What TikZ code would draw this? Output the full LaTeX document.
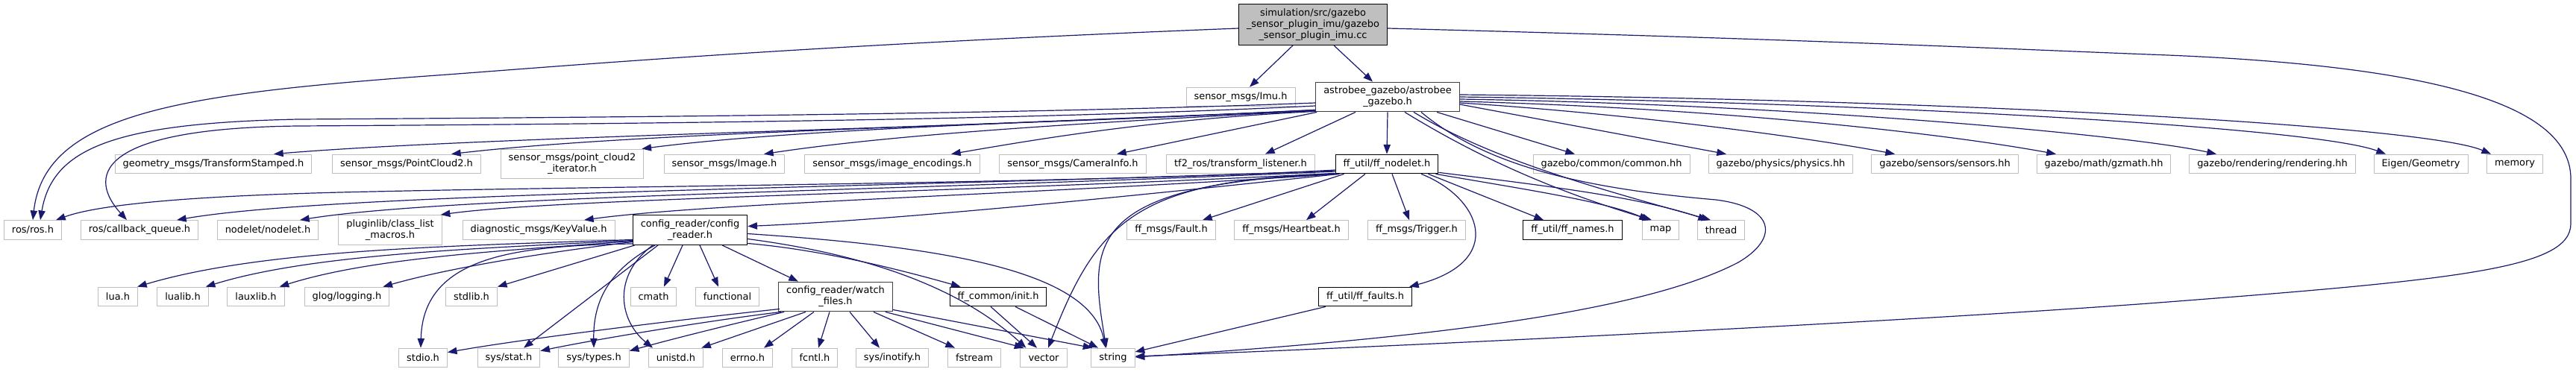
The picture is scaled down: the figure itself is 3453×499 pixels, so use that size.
\documentclass[tikz,border=0pt]{standalone}
\usepackage{fontspec}
\setmainfont{DejaVu Sans}
\usetikzlibrary{arrows.meta,calc}
\definecolor{midblue}{HTML}{191970}
\definecolor{grey75}{HTML}{BFBFBF}
\definecolor{docgrey}{HTML}{404040}
\begin{document}
\begin{tikzpicture}[x=0.75pt,y=-0.75pt,
  box/.style={rectangle, inner xsep=7.9pt, inner ysep=4.5pt, minimum height=19.3pt, align=center, font=\fontsize{9.7}{11.25}\selectfont, line width=0.75pt},
  ext/.style={box, draw=grey75},
  doc/.style={box, draw=black},
  docg/.style={box, draw=docgrey},
  mainnode/.style={box, draw=black, fill=grey75},
  dep/.style={draw=midblue, line width=0.9pt, -{Triangle[length=9.5pt,width=7pt]}}]
\fill[white] (0,0) rectangle (3453,499);
\useasboundingbox (0,0) rectangle (3453,499);
% rank 0
\node[mainnode] (M) at (1760,33) {simulation/src/gazebo\\\_sensor\_plugin\_imu/gazebo\\\_sensor\_plugin\_imu.cc};
% rank 1
\node[ext] (imu) at (1663,130) {sensor\_msgs/Imu.h};
\node[docg] (A) at (1860,130) {astrobee\_gazebo/astrobee\\\_gazebo.h};
% rank 2
\node[ext] (geom) at (286,220) {geometry\_msgs/TransformStamped.h};
\node[ext] (pc2) at (545,220) {sensor\_msgs/PointCloud2.h};
\node[ext] (pc2it) at (767,220) {sensor\_msgs/point\_cloud2\\\_iterator.h};
\node[ext] (img) at (971,220) {sensor\_msgs/Image.h};
\node[ext] (imgenc) at (1196,220) {sensor\_msgs/image\_encodings.h};
\node[ext] (cam) at (1438,220) {sensor\_msgs/CameraInfo.h};
\node[ext] (tf) at (1663,220) {tf2\_ros/transform\_listener.h};
\node[doc] (fn) at (1859,220) {ff\_util/ff\_nodelet.h};
\node[ext] (common) at (2160,220) {gazebo/common/common.hh};
\node[ext] (physics) at (2387,220) {gazebo/physics/physics.hh};
\node[ext] (sensors) at (2607,220) {gazebo/sensors/sensors.hh};
\node[ext] (gzmath) at (2820,220) {gazebo/math/gzmath.hh};
\node[ext] (rendering) at (3046,220) {gazebo/rendering/rendering.hh};
\node[ext] (eigen) at (3245,220) {Eigen/Geometry};
\node[ext] (memory) at (3371,220) {memory};
% rank 3
\node[ext] (ros) at (44,308.5) {ros/ros.h};
\node[ext] (cbq) at (187,308.5) {ros/callback\_queue.h};
\node[ext] (nodelet) at (359,308.5) {nodelet/nodelet.h};
\node[ext] (plugin) at (523,308.5) {pluginlib/class\_list\\\_macros.h};
\node[ext] (kv) at (722,308.5) {diagnostic\_msgs/KeyValue.h};
\node[doc] (cr) at (925,308.5) {config\_reader/config\\\_reader.h};
\node[ext] (fault) at (1570,308.5) {ff\_msgs/Fault.h};
\node[ext] (hb) at (1731,308.5) {ff\_msgs/Heartbeat.h};
\node[ext] (trigger) at (1899,308.5) {ff\_msgs/Trigger.h};
\node[doc] (names) at (2108,308.5) {ff\_util/ff\_names.h};
\node[ext] (map) at (2226,308.5) {map};
\node[ext] (thread) at (2307,308.5) {thread};
% rank 4
\node[ext] (lua) at (158,398) {lua.h};
\node[ext] (lualib) at (245,398) {lualib.h};
\node[ext] (lauxlib) at (343,398) {lauxlib.h};
\node[ext] (glog) at (465,398) {glog/logging.h};
\node[ext] (stdlib) at (632,398) {stdlib.h};
\node[ext] (cmath) at (876,398) {cmath};
\node[ext] (functional) at (975,398) {functional};
\node[docg] (wf) at (1120,398) {config\_reader/watch\\\_files.h};
\node[doc] (init) at (1338,398) {ff\_common/init.h};
\node[doc] (faults) at (1830,398) {ff\_util/ff\_faults.h};
% rank 5
\node[ext] (stdio) at (567,480) {stdio.h};
\node[ext] (stat) at (682,480) {sys/stat.h};
\node[ext] (types) at (796,480) {sys/types.h};
\node[ext] (unistd) at (906,480) {unistd.h};
\node[ext] (errno) at (1002,480) {errno.h};
\node[ext] (fcntl) at (1092,480) {fcntl.h};
\node[ext] (inotify) at (1196,480) {sys/inotify.h};
\node[ext] (fstream) at (1306,480) {fstream};
\node[ext] (vector) at (1399,480) {vector};
\node[ext] (string) at (1492,480) {string};
% edges from main
\draw[dep] ($(M.south)+(-27,0)$) -- ($(imu.north)+(12,0)$);
\draw[dep] ($(M.south)+(28,0)$) -- ($(A.north)+(-20,0)$);
\draw[dep] ($(M.west)+(0,5)$) .. controls (1100,60) and (800,85) .. (600,100) .. controls (250,125) and (60,150) .. (ros.north);
\draw[dep] ($(M.east)+(0,5)$) .. controls (2400,52) and (2700,66) .. (2880,73) .. controls (3300,88) and (3446,150) .. (3446,240) -- (3446,300) .. controls (3446,360) and (3300,375) .. (2880,407) .. controls (2500,435) and (1800,468) .. ($(string.east)+(0,-2)$);
% edges from astrobee_gazebo
\draw[dep] ($(A.west)+(0,8)$) .. controls (1400,152) and (900,157) .. (400,160) .. controls (150,165) and (70,200) .. ($(ros.north)+(10,0)$);
\draw[dep] ($(A.west)+(0,12)$) .. controls (1400,160) and (900,166) .. (400,169) .. controls (120,172) and (120,240) .. ($(cbq.north)+(-17,0)$);
\draw[dep] ($(A.south west)+(0,-3)$) .. controls (1300,172) and (650,183) .. ($(geom.north)+(81,0)$);
\draw[dep] ($(A.south west)+(0,-3)$) .. controls (1300,170) and (850,178) .. ($(pc2.north)+(60,0)$);
\draw[dep] ($(A.south west)+(0,-2)$) .. controls (1350,165) and (1050,175) .. ($(pc2it.north east)+(-3,0)$);
\draw[dep] ($(A.south west)+(0,-2)$) .. controls (1450,165) and (1200,180) .. ($(img.north)+(53,0)$);
\draw[dep] ($(A.south west)+(0,-1)$) .. controls (1550,160) and (1400,185) .. ($(imgenc.north)+(79,0)$);
\draw[dep] ($(A.south west)+(2,0)$) -- ($(cam.north)+(59,0)$);
\draw[dep] ($(A.south)+(-43,0)$) -- ($(tf.north)+(33,0)$);
\draw[dep] (A.south) -- (fn.north);
\draw[dep] ($(A.south)+(66,0)$) -- ($(common.north)+(-49,0)$);
\draw[dep] ($(A.east)+(0,10)$) -- ($(physics.north)+(-73,0)$);
\draw[dep] ($(A.east)+(0,8)$) .. controls (2150,150) and (2400,180) .. ($(sensors.north)+(-67,0)$);
\draw[dep] ($(A.east)+(0,6)$) .. controls (2300,145) and (2600,178) .. ($(gzmath.north)+(-64,0)$);
\draw[dep] ($(A.east)+(0,3)$) .. controls (2400,140) and (2850,180) .. ($(rendering.north)+(-75,0)$);
\draw[dep] (A.east) .. controls (2500,137) and (3100,170) .. ($(eigen.north)+(-47,0)$);
\draw[dep] ($(A.east)+(0,-3)$) .. controls (2600,133) and (3250,168) .. ($(memory.north)+(-32,0)$);
\draw[dep] ($(A.south)+(23,0)$) .. controls (1980,210) and (2080,255) .. ($(map.north)+(-12,0)$);
\draw[dep] ($(A.south)+(35,0)$) .. controls (2000,215) and (2150,255) .. ($(thread.north)+(-14,0)$);
\draw[dep] ($(A.south)+(45,0)$) .. controls (2000,230) and (2150,255) .. (2300,268) .. controls (2380,278) and (2385,320) .. (2330,352) .. controls (2200,420) and (1900,455) .. ($(string.east)+(0,-1)$);
% edges from ff_nodelet
\draw[dep] ($(fn.west)+(0,8)$) .. controls (1500,245) and (800,250) .. (500,257) .. controls (250,262) and (130,275) .. ($(ros.north east)+(-8,0)$);
\draw[dep] ($(fn.west)+(0,9)$) .. controls (1200,252) and (450,258) .. ($(cbq.north)+(50,0)$);
\draw[dep] ($(fn.west)+(0,10)$) .. controls (1200,256) and (600,263) .. ($(nodelet.north)+(43,0)$);
\draw[dep] ($(fn.south west)+(0,-1)$) .. controls (1300,258) and (750,266) .. ($(plugin.north east)+(-2,0)$);
\draw[dep] ($(fn.south west)+(3,0)$) .. controls (1400,260) and (950,272) .. ($(kv.north)+(61,0)$);
\draw[dep] ($(fn.south west)+(5,0)$) .. controls (1500,265) and (1200,295) .. ($(cr.east)+(0,-5)$);
\draw[dep] ($(fn.south west)+(12,0)$) -- ($(fault.north)+(42,0)$);
\draw[dep] ($(fn.south)+(-29,0)$) -- ($(hb.north)+(20,0)$);
\draw[dep] ($(fn.south)+(7,0)$) -- ($(trigger.north)+(-10,0)$);
\draw[dep] ($(fn.south)+(46,0)$) .. controls (1985,265) and (2020,350) .. ($(faults.north east)+(-4,0)$);
\draw[dep] ($(fn.south east)+(-14,0)$) -- ($(names.north)+(-39,0)$);
\draw[dep] ($(fn.south east)+(-4,0)$) .. controls (2050,255) and (2150,270) .. ($(map.north)+(-16,0)$);
\draw[dep] ($(fn.south east)+(0,-2)$) .. controls (2080,250) and (2200,265) .. ($(thread.north)+(-18,0)$);
\draw[dep] ($(fn.south west)+(4,0)$) .. controls (1520,240) and (1470,300) .. ($(vector.north)+(6,0)$);
\draw[dep] ($(fn.south west)+(6,0)$) .. controls (1450,245) and (1460,330) .. ($(string.north)+(-9,0)$);
% edges from config_reader
\draw[dep] ($(cr.west)+(0,13)$) .. controls (600,330) and (350,335) .. ($(lua.north east)+(-1,0)$);
\draw[dep] ($(cr.west)+(0,14)$) .. controls (650,333) and (420,340) .. ($(lualib.north east)+(-4,0)$);
\draw[dep] ($(cr.west)+(0,15)$) .. controls (680,336) and (500,345) .. ($(lauxlib.north east)+(-7,0)$);
\draw[dep] ($(cr.west)+(0,16)$) .. controls (720,340) and (600,360) .. ($(glog.north east)+(-9,0)$);
\draw[dep] ($(cr.south west)+(0,-2)$) .. controls (700,330) and (567,340) .. ($(stdio.north)+(-3,0)$);
\draw[dep] ($(cr.south west)+(3,0)$) -- (stdlib.north east);
\draw[dep] ($(cr.south)+(-43,0)$) -- ($(stat.north)+(20,0)$);
\draw[dep] ($(cr.south)+(-47,0)$) .. controls (820,360) and (795,400) .. (types.north);
\draw[dep] ($(cr.south)+(-50,0)$) .. controls (820,370) and (830,430) .. ($(unistd.north)+(-31,0)$);
\draw[dep] ($(cr.south)+(-10,0)$) -- ($(cmath.north)+(14,0)$);
\draw[dep] ($(cr.south)+(13,0)$) -- ($(functional.north)+(-12,0)$);
\draw[dep] ($(cr.south)+(43,0)$) -- ($(wf.north)+(-50,0)$);
\draw[dep] ($(cr.east)+(0,18)$) .. controls (1100,335) and (1200,360) .. ($(init.north west)+(15,0)$);
\draw[dep] ($(cr.east)+(0,12)$) .. controls (1150,340) and (1280,380) .. ($(vector.north west)+(8,0)$);
\draw[dep] ($(cr.east)+(0,5)$) .. controls (1250,330) and (1460,360) .. ($(string.north)+(-10,0)$);
% edges from watch_files
\draw[dep] ($(wf.south west)+(2,-4)$) .. controls (900,430) and (700,455) .. ($(stdio.north east)+(0,6)$);
\draw[dep] ($(wf.south west)+(4,0)$) .. controls (950,430) and (800,455) .. ($(stat.north east)+(0,4)$);
\draw[dep] ($(wf.south west)+(8,0)$) .. controls (980,435) and (900,455) .. ($(types.north east)+(0,4)$);
\draw[dep] ($(wf.south)+(-40,0)$) -- ($(unistd.north east)+(-3,0)$);
\draw[dep] ($(wf.south)+(-29,0)$) -- ($(errno.north)+(22,0)$);
\draw[dep] ($(wf.south)+(-8,0)$) -- ($(fcntl.north)+(5,0)$);
\draw[dep] ($(wf.south)+(19,0)$) -- ($(inotify.north)+(-17,0)$);
\draw[dep] ($(wf.south east)+(-26,0)$) -- ($(fstream.north)+(-26,0)$);
\draw[dep] ($(wf.south east)+(-10,0)$) -- ($(vector.north west)+(5,0)$);
\draw[dep] ($(wf.south east)+(0,-3)$) -- ($(string.north west)+(2,0)$);
% other edges
\draw[dep] ($(init.south)+(-10,0)$) -- ($(vector.north)+(-9,0)$);
\draw[dep] ($(init.south)+(23,0)$) -- ($(string.north)+(-20,0)$);
\draw[dep] ($(faults.south west)+(10,0)$) -- ($(string.east)+(0,-8)$);
\end{tikzpicture}
\end{document}
